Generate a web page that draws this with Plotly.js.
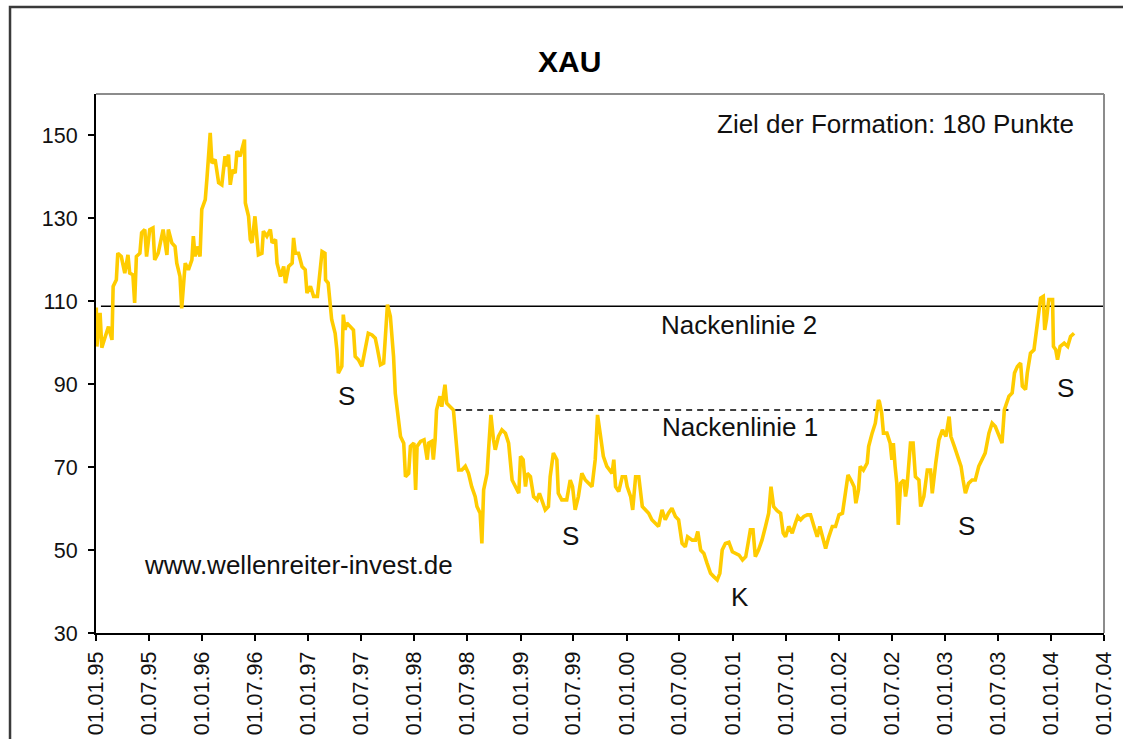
<!DOCTYPE html>
<html>
<head>
<meta charset="utf-8">
<script src="https://cdn.plot.ly/plotly-3.0.1.min.js"></script>
<style>
html,body{margin:0;padding:0;background:#fff;}
#chart{width:1123px;height:739px;}
</style>
</head>
<body>
<div id="chart"></div>
<script>
// XAU index, values
var dates = [
"1995-01-02","1995-01-04","1995-01-15","1995-01-21","1995-02-02","1995-02-13","1995-02-25","1995-03-01","1995-03-12","1995-03-17",
"1995-03-29","1995-04-10","1995-04-21","1995-04-27","1995-05-08","1995-05-14","1995-05-20","1995-06-01","1995-06-07","1995-06-18",
"1995-06-24","1995-06-29","1995-07-05","1995-07-16","1995-07-22","1995-08-03","1995-08-15","1995-08-20","1995-09-02","1995-09-07",
"1995-09-19","1995-09-30","1995-10-06","1995-10-17","1995-10-23","1995-10-29","1995-11-04","1995-11-15","1995-11-27","1995-12-02",
"1995-12-08","1995-12-14","1995-12-25","1995-12-31","1996-01-12","1996-01-18","1996-01-29","1996-02-04","1996-02-15","1996-02-27",
"1996-03-09","1996-03-20","1996-03-26","1996-04-01","1996-04-07","1996-04-15","1996-04-24","1996-04-30","1996-05-11","1996-05-17",
"1996-05-26","1996-05-29","1996-06-09","1996-06-15","1996-06-21","1996-07-01","1996-07-08","1996-07-13","1996-07-25","1996-07-30",
"1996-08-11","1996-08-23","1996-08-29","1996-09-10","1996-09-15","1996-09-27","1996-10-08","1996-10-14","1996-10-25","1996-11-06",
"1996-11-11","1996-11-17","1996-11-28","1996-12-10","1996-12-21","1996-12-27","1997-01-08","1997-01-19","1997-02-01","1997-02-06",
"1997-02-12","1997-02-17","1997-02-27","1997-03-01","1997-03-10","1997-03-16","1997-03-22","1997-04-03","1997-04-09","1997-04-14",
"1997-04-26","1997-05-01","1997-05-07","1997-05-13","1997-05-24","1997-06-05","1997-06-11","1997-06-22","1997-07-04","1997-07-15",
"1997-07-26","1997-08-08","1997-08-19","1997-08-25","1997-09-06","1997-09-17","1997-09-23","1997-09-30","1997-10-10","1997-10-16",
"1997-10-21","1997-10-27","1997-11-08","1997-11-14","1997-11-25","1997-12-01","1997-12-12","1997-12-18","1997-12-30","1998-01-05",
"1998-01-10","1998-01-22","1998-02-03","1998-02-14","1998-02-19","1998-03-01","1998-03-07","1998-03-13","1998-03-18","1998-03-30",
"1998-04-05","1998-04-16","1998-04-22","1998-05-04","1998-05-15","1998-05-21","1998-05-27","1998-06-02","1998-06-13","1998-06-25",
"1998-07-06","1998-07-17","1998-07-29","1998-08-04","1998-08-15","1998-08-21","1998-08-27","1998-09-08","1998-09-13","1998-09-21",
"1998-09-30","1998-10-06","1998-10-17","1998-10-29","1998-11-10","1998-11-21","1998-12-03","1998-12-14","1998-12-26","1999-01-01",
"1999-01-10","1999-01-18","1999-01-24","1999-02-04","1999-02-15","1999-02-27","1999-03-07","1999-03-15","1999-03-27","1999-04-07",
"1999-04-13","1999-04-24","1999-05-06","1999-05-11","1999-05-23","1999-06-09","1999-06-21","1999-06-29","1999-07-08","1999-07-19",
"1999-07-31","1999-08-12","1999-08-23","1999-09-04","1999-09-15","1999-09-23","1999-10-02","1999-10-13","1999-10-25","1999-11-12",
"1999-11-18","1999-11-24","1999-12-05","1999-12-17","1999-12-28","2000-01-03","2000-01-15","2000-01-22","2000-02-01","2000-02-12",
"2000-02-24","2000-03-05","2000-03-17","2000-03-28","2000-04-09","2000-04-20","2000-05-02","2000-05-13","2000-05-24","2000-06-05",
"2000-06-17","2000-06-28","2000-07-10","2000-07-21","2000-07-29","2000-08-14","2000-08-25","2000-09-02","2000-09-12","2000-09-23",
"2000-10-04","2000-10-16","2000-10-27","2000-11-08","2000-11-17","2000-11-25","2000-12-06","2000-12-18","2000-12-30","2001-01-10",
"2001-01-22","2001-02-03","2001-02-14","2001-02-22","2001-03-02","2001-03-11","2001-03-19","2001-03-30","2001-04-11","2001-04-23",
"2001-05-04","2001-05-12","2001-05-21","2001-06-02","2001-06-14","2001-06-23","2001-07-01","2001-07-12","2001-07-24","2001-08-04",
"2001-08-12","2001-08-22","2001-09-02","2001-09-14","2001-09-25","2001-10-07","2001-10-18","2001-10-27","2001-11-08","2001-11-16",
"2001-11-27","2001-12-09","2001-12-20","2002-01-01","2002-01-13","2002-01-24","2002-02-01","2002-02-11","2002-02-22","2002-02-28",
"2002-03-09","2002-03-15","2002-03-26","2002-04-08","2002-04-13","2002-04-25","2002-05-06","2002-05-17","2002-05-20","2002-05-28",
"2002-06-03","2002-06-15","2002-06-26","2002-07-02","2002-07-07","2002-07-13","2002-07-19","2002-07-24","2002-08-01","2002-08-12",
"2002-08-18","2002-08-23","2002-09-04","2002-09-13","2002-09-21","2002-10-03","2002-10-09","2002-10-20","2002-11-01","2002-11-12",
"2002-11-18","2002-11-30","2002-12-11","2002-12-23","2003-01-04","2003-01-15","2003-01-21","2003-02-02","2003-02-13","2003-02-25",
"2003-03-04","2003-03-12","2003-03-23","2003-04-04","2003-04-15","2003-04-27","2003-05-08","2003-05-19","2003-06-01","2003-06-12",
"2003-06-23","2003-07-05","2003-07-16","2003-07-24","2003-08-03","2003-08-09","2003-08-20","2003-08-28","2003-09-07","2003-09-18",
"2003-09-24","2003-10-05","2003-10-11","2003-10-22","2003-11-03","2003-11-15","2003-11-26","2003-12-05","2003-12-10","2003-12-16",
"2003-12-24","2004-01-06","2004-01-09","2004-01-17","2004-01-23","2004-02-01","2004-02-15","2004-02-27","2004-03-08","2004-03-20"
];
var xau = [
108.5,99.1,107.2,98.8,101.5,103.9,100.7,113.6,115.2,121.6,
120.8,116.8,121.2,116.8,116.4,109.6,120.8,121.6,126.5,127.3,
120.8,123.2,127.3,127.7,120.0,121.6,126.5,127.3,121.2,127.3,
124.1,123.2,119.2,116.0,108.3,112.8,119.2,117.6,120.0,125.7,
120.8,123.2,120.8,132.2,134.5,139.8,150.6,143.3,144.2,138.6,
138.1,145.0,142.5,145.4,138.1,141.7,140.9,146.2,145.0,146.6,
149.0,133.7,130.5,124.9,124.1,130.5,124.9,121.2,121.6,126.9,
125.7,127.3,124.1,124.9,119.2,116.0,118.4,114.4,118.4,119.2,
125.3,121.6,121.6,118.4,117.6,112.0,113.6,111.2,111.2,114.4,
116.8,122.0,121.6,115.2,114.4,109.6,105.6,102.3,98.3,92.7,
94.3,106.8,103.1,104.8,103.9,103.1,96.7,95.9,94.3,97.9,
102.3,101.9,101.1,99.1,94.7,95.1,102.3,109.2,106.4,101.5,
96.7,87.8,81.4,77.4,75.8,67.7,68.5,75.0,75.8,64.5,
75.0,76.2,76.6,71.8,75.8,76.2,71.8,76.6,83.8,87.1,
84.6,89.9,85.4,84.6,83.8,79.0,74.2,69.3,69.3,70.2,
68.5,65.3,62.9,60.5,58.9,51.6,64.5,68.5,74.2,82.6,
76.6,74.2,77.4,79.0,78.2,75.8,66.9,65.3,63.7,72.6,
71.8,65.3,68.5,67.7,62.9,62.1,63.7,62.1,59.7,60.5,
67.7,73.4,71.8,63.7,62.1,62.1,66.9,65.3,59.7,62.9,
68.5,66.9,66.1,65.3,71.8,82.6,78.2,72.6,70.2,68.5,
71.8,65.3,64.1,67.7,67.7,65.3,62.9,59.7,67.7,67.7,
60.5,59.7,58.9,57.3,56.5,55.7,59.7,57.3,58.9,60.1,
58.1,57.3,51.6,50.8,53.2,52.4,52.4,54.5,50.0,49.2,
46.8,44.4,43.6,42.8,44.4,50.0,51.6,51.9,49.6,49.2,
48.8,47.6,48.4,51.6,54.9,54.9,48.4,50.0,52.4,55.7,
58.9,65.3,60.5,59.5,58.9,54.1,53.2,55.7,54.1,56.5,
58.1,57.3,58.1,58.5,58.5,55.7,53.2,55.7,52.8,50.4,
53.2,55.7,55.7,58.5,58.9,63.7,68.1,66.9,65.3,61.3,
64.5,70.2,69.3,71.0,75.0,78.2,80.6,86.2,85.8,83.0,
78.2,78.2,75.8,71.8,75.8,70.2,66.1,56.1,66.1,66.9,
62.9,65.3,75.8,75.8,67.7,66.9,60.5,62.9,69.3,69.3,
63.7,71.0,76.6,79.0,77.4,82.2,77.4,75.0,72.6,70.2,
66.9,63.7,66.1,66.9,66.9,70.2,71.8,73.4,78.2,80.6,
79.8,77.4,75.8,83.8,86.2,87.1,87.9,92.7,94.3,95.1,
89.5,88.7,92.7,97.5,98.3,104.8,110.8,111.2,103.1,105.6,
110.4,110.4,99.1,98.3,95.9,99.1,99.9,99.1,101.5,102.3
];
// neck lines (drawn lines of the chart)
var neck2Dates = ["1995-01-18","2004-07-01"];
var neck2Values = [108.8,108.8];
var neck1Dates = ["1998-05-21","2003-08-07"];
var neck1Values = [83.8,83.8];
// axis ticks
var yTicks = [30,50,70,90,110,130,150];
var xRange = ["1995-01-01","2004-07-01"];
var yRange = [30,160];

var FONT = "Arial, 'Liberation Sans', sans-serif";
var traces = [
  {x: neck2Dates, y: neck2Values, mode:"lines", line:{color:"#000", width:1.6}, hoverinfo:"skip", showlegend:false},
  {x: neck1Dates, y: neck1Values, mode:"lines", line:{color:"#000", width:1.6, dash:"6px,5px"}, hoverinfo:"skip", showlegend:false},
  {x: dates, y: xau, mode:"lines", line:{color:"#FFCC00", width:3.6}, showlegend:false, name:"XAU"}
];

function ann(text, x, y, xa, size){
  return {text:text, xref:"paper", yref:"paper", x:x, y:y, xanchor:xa||"center", yanchor:"middle",
          showarrow:false, font:{family:FONT, size:size||26, color:"#111"}};
}

var layout = {
  width:1123, height:739,
  margin:{l:96, r:19, t:94, b:106, pad:0},
  paper_bgcolor:"#fff", plot_bgcolor:"#fff",
  title:{text:"<b>XAU</b>", font:{family:FONT, size:30, color:"#000"}, xref:"paper", x:0.470, xanchor:"center", y:0.917, yanchor:"middle"},
  xaxis:{type:"date", range:xRange, dtick:"M6", tick0:"1995-01-01", tickformat:"%d.%m.%y", tickangle:-90,
         showgrid:false, zeroline:false, showline:true, linecolor:"#000", linewidth:2,
         ticks:"outside", ticklen:6, tickwidth:2, tickcolor:"#000", ticklabelstandoff:2,
         tickfont:{family:FONT, size:21.5, color:"#111"}, fixedrange:true},
  yaxis:{range:yRange, tickvals:yTicks, ticktext:yTicks.map(String),
         showgrid:false, zeroline:false, showline:true, linecolor:"#000", linewidth:2,
         ticks:"outside", ticklen:6, tickwidth:2, tickcolor:"#000", ticklabelstandoff:6,
         tickfont:{family:FONT, size:21.5, color:"#111"}, fixedrange:true},
  shapes:[
    {type:"line", xref:"paper", yref:"paper", x0:0, x1:1, y0:1, y1:1, line:{color:"#8c8c8c", width:2}},
    {type:"line", xref:"paper", yref:"paper", x0:1, x1:1, y0:0, y1:1, line:{color:"#8c8c8c", width:2}},
    {type:"rect", xref:"paper", yref:"paper", x0:-0.0853, x1:1.1, y0:-0.3, y1:1.1614, line:{color:"#3a3a3a", width:2.5}}
  ],
  annotations:[
    ann("Ziel der Formation: 180 Punkte", 0.972, 0.944, "right"),
    ann("Nackenlinie 2", 0.638, 0.571),
    ann("Nackenlinie 1", 0.639, 0.382),
    ann("S", 0.249, 0.440),
    ann("S", 0.471, 0.180),
    ann("S", 0.864, 0.199),
    ann("S", 0.962, 0.455),
    ann("K", 0.639, 0.067),
    ann("www.wellenreiter-invest.de", 0.0456, 0.126, "left")
  ]
};
Plotly.newPlot("chart", traces, layout, {displayModeBar:false, staticPlot:true});
</script>
</body>
</html>
